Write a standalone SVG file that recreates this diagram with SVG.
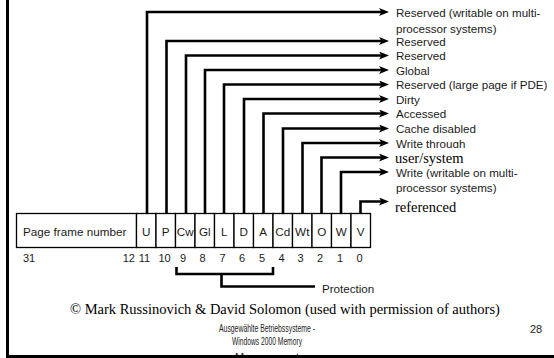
<svg xmlns="http://www.w3.org/2000/svg" width="554" height="358" viewBox="0 0 554 358">
<style>
.s{font-family:"Liberation Sans",Arial,sans-serif;font-size:11.6px;fill:#1a1a1a}
.r{font-family:"Liberation Serif","Times New Roman",serif;font-size:14.5px;fill:#000}
.c{font-family:"Liberation Sans",Arial,sans-serif;font-size:11.7px;fill:#1a1a1a;text-anchor:middle}
.n{font-family:"Liberation Sans",Arial,sans-serif;font-size:11px;fill:#1a1a1a;text-anchor:middle}
.f{font-family:"Liberation Sans",Arial,sans-serif;font-size:11px;fill:#1a1a1a;text-anchor:middle}
.ln{fill:none;stroke:#000;stroke-width:2.6}
.cell{fill:#fff;stroke:#000;stroke-width:1.3}
</style>
<defs>
<marker id="ah" viewBox="0 0 10 8" refX="5" refY="4" markerWidth="10" markerHeight="8" markerUnits="userSpaceOnUse" orient="auto">
<path d="M0,0 L10,4 L0,8 L2.5,4 z" fill="#000"/>
</marker>
<clipPath id="wtclip"><rect x="390" y="130" width="120" height="18"/></clipPath>
</defs>
<rect width="554" height="358" fill="#fff"/>

<g id="connectors">
<path class="ln" marker-end="url(#ah)" d="M147,213 V12 H384"/>
<path class="ln" marker-end="url(#ah)" d="M166.5,213 V41 H384"/>
<path class="ln" marker-end="url(#ah)" d="M186,213 V55.5 H384"/>
<path class="ln" marker-end="url(#ah)" d="M205,213 V70 H384"/>
<path class="ln" marker-end="url(#ah)" d="M224,213 V84.5 H384"/>
<path class="ln" marker-end="url(#ah)" d="M244,213 V99 H384"/>
<path class="ln" marker-end="url(#ah)" d="M263.5,213 V113.5 H384"/>
<path class="ln" marker-end="url(#ah)" d="M283,213 V128.5 H384"/>
<path class="ln" marker-end="url(#ah)" d="M302.5,213 V143 H384"/>
<path class="ln" marker-end="url(#ah)" d="M321.5,213 V157.5 H384"/>
<path class="ln" marker-end="url(#ah)" d="M341,213 V172 H384"/>
<path class="ln" marker-end="url(#ah)" d="M360.5,213 V201.5 H384"/>
<path class="ln" d="M176.5,267 V274 H273 V267"/>
<path class="ln" d="M221.5,274 V286.5 H315"/>
</g>

<g id="labels">
<text class="s" x="396" y="16.5">Reserved (writable on multi-</text>
<text class="s" x="396" y="32.5">processor systems)</text>
<text class="s" x="396" y="45.5">Reserved</text>
<text class="s" x="396" y="60">Reserved</text>
<text class="s" x="396" y="74.5">Global</text>
<text class="s" x="396" y="89">Reserved (large page if PDE)</text>
<text class="s" x="396" y="103.5">Dirty</text>
<text class="s" x="396" y="118">Accessed</text>
<text class="s" x="396" y="133">Cache disabled</text>
<text class="s" x="396" y="147.5" clip-path="url(#wtclip)">Write through</text>
<text class="r" x="395" y="162.5">user/system</text>
<text class="s" x="396" y="176.5">Write (writable on multi-</text>
<text class="s" x="396" y="192">processor systems)</text>
<text class="r" x="395" y="211.5">referenced</text>
<text class="s" x="322" y="293">Protection</text>
</g>

<g id="pte">
<rect class="cell" x="16.5" y="213.5" width="120" height="34"/>
<text class="s" x="23" y="236" style="font-size:11.7px">Page frame number</text>
<rect class="cell" x="136.5" y="213.5" width="19.5" height="34"/>
<rect class="cell" x="156" y="213.5" width="19.5" height="34"/>
<rect class="cell" x="175.5" y="213.5" width="19.5" height="34"/>
<rect class="cell" x="195" y="213.5" width="19.5" height="34"/>
<rect class="cell" x="214.5" y="213.5" width="19.5" height="34"/>
<rect class="cell" x="234" y="213.5" width="19.5" height="34"/>
<rect class="cell" x="253.5" y="213.5" width="19.5" height="34"/>
<rect class="cell" x="273" y="213.5" width="19.5" height="34"/>
<rect class="cell" x="292.5" y="213.5" width="19.5" height="34"/>
<rect class="cell" x="312" y="213.5" width="19.5" height="34"/>
<rect class="cell" x="331.5" y="213.5" width="19.5" height="34"/>
<rect class="cell" x="351" y="213.5" width="19.5" height="34"/>
<text class="c" x="146.25" y="236">U</text>
<text class="c" x="165.75" y="236">P</text>
<text class="c" x="185.25" y="236">Cw</text>
<text class="c" x="204.75" y="236">Gl</text>
<text class="c" x="224.25" y="236">L</text>
<text class="c" x="243.75" y="236">D</text>
<text class="c" x="263.25" y="236">A</text>
<text class="c" x="282.75" y="236">Cd</text>
<text class="c" x="302.25" y="236">Wt</text>
<text class="c" x="321.75" y="236">O</text>
<text class="c" x="341.25" y="236">W</text>
<text class="c" x="360.75" y="236">V</text>
</g>

<g id="bits">
<text class="n" x="23" y="261.5" style="text-anchor:start">31</text>
<text class="n" x="135" y="261.5" style="text-anchor:end">12</text>
<text class="n" x="144.5" y="261.5">11</text>
<text class="n" x="164.5" y="261.5">10</text>
<text class="n" x="183" y="261.5">9</text>
<text class="n" x="202.5" y="261.5">8</text>
<text class="n" x="222.5" y="261.5">7</text>
<text class="n" x="242" y="261.5">6</text>
<text class="n" x="262" y="261.5">5</text>
<text class="n" x="281.5" y="261.5">4</text>
<text class="n" x="300.5" y="261.5">3</text>
<text class="n" x="320" y="261.5">2</text>
<text class="n" x="340" y="261.5">1</text>
<text class="n" x="359.5" y="261.5">0</text>
</g>

<g id="footer">
<text class="r" x="70" y="314">© Mark Russinovich &amp; David Solomon (used with permission of authors)</text>
<text class="f" x="267" y="332" textLength="96" lengthAdjust="spacingAndGlyphs">Ausgewählte Betriebssysteme -</text>
<text class="f" x="267" y="345" textLength="70" lengthAdjust="spacingAndGlyphs">Windows 2000 Memory</text>
<text class="f" x="267" y="360.5" textLength="64" lengthAdjust="spacingAndGlyphs">Management</text>
<text class="s" x="530" y="333" style="font-size:11px">28</text>
</g>

<g id="frame">
<path d="M7.5,0 V356.5 H554" fill="none" stroke="#000" stroke-width="3"/>
</g>
</svg>
